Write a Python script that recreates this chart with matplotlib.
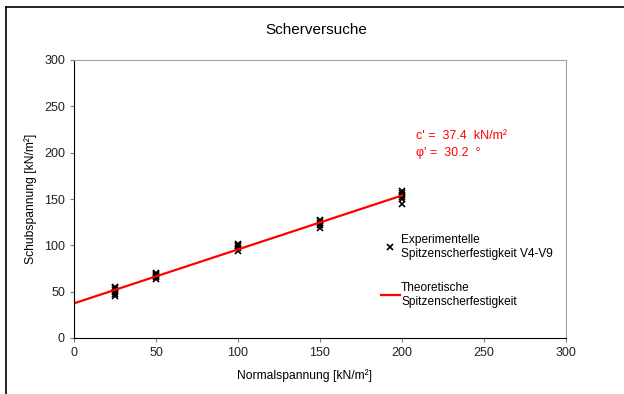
import numpy as np
import matplotlib.pyplot as plt
from matplotlib.lines import Line2D

plt.rcParams['font.family'] = ['Liberation Sans', 'DejaVu Sans']

# normal stress levels and measured peak shear stress (V4-V9)
normal_25 = [45, 48, 50, 52, 54, 55]
normal_50 = [64, 66, 67, 68, 69, 70]
normal_100 = [94, 97, 99, 100, 101]
normal_150 = [119, 122, 124, 126, 127]
normal_200 = [145, 150, 152, 154, 157, 159]
sigma_levels = [25, 50, 100, 150, 200]

c_eff = 37.4      # kN/m²
phi_eff = 30.2    # degrees
line_x = [0, 200]

fig = plt.figure(figsize=(6.24, 3.94), dpi=100)
ax = fig.add_axes([74 / 624, 56 / 394, 492 / 624, 278 / 394])

tau_groups = [normal_25, normal_50, normal_100, normal_150, normal_200]
xs, ys = [], []
for s, taus in zip(sigma_levels, tau_groups):
    xs += [s] * len(taus)
    ys += taus
ax.plot(xs, ys, 'x', color='black', ms=5, mew=1.2, linestyle='none')

lx = np.array(line_x, dtype=float)
ax.plot(lx, c_eff + lx * np.tan(np.radians(phi_eff)), color='red', lw=1.6)

ax.set_xlim(0, 300)
ax.set_ylim(0, 300)
ax.set_xticks(np.arange(0, 301, 50))
ax.set_yticks(np.arange(0, 301, 50))
ax.tick_params(labelsize=9, length=3, color='#808080', colors='#222222')
for side in ['top', 'right']:
    ax.spines[side].set_color('#a0a0a0')
for side in ['left', 'bottom']:
    ax.spines[side].set_color('black')

ax.set_title('Scherversuche', fontsize=11, pad=19, x=0.492)
ax.set_xlabel('Normalspannung [kN/m²]', fontsize=8.7, labelpad=7)
ax.xaxis.label.set_x(0.4695)
ax.set_ylabel('Schubspannung [kN/m²]', fontsize=8.7, labelpad=5)

ax.text(416 / 624, 1 - 136 / 394, "c' =  37.4  kN/m²", transform=fig.transFigure,
        color='red', fontsize=9, va='center')
ax.text(416 / 624, 1 - 153 / 394, "φ' =  30.2  °", transform=fig.transFigure,
        color='red', fontsize=9, va='center')

handles = [Line2D([], [], marker='x', color='black', ms=4, mew=1.2, linestyle='none'),
           Line2D([], [], color='red', lw=1.6)]
labels = ['Experimentelle\nSpitzenscherfestigkeit V4-V9',
          'Theoretische\nSpitzenscherfestigkeit']
fig.legend(handles, labels, loc='upper left', bbox_to_anchor=(376 / 624, 1 - 229 / 394),
           frameon=False, fontsize=8.6, handlelength=1.6, handletextpad=0.1,
           labelspacing=1.9, borderaxespad=0)

# outer chart frame
fig.add_artist(Line2D([6 / 624, 1], [1 - 7 / 394, 1 - 7 / 394], color='black', lw=1.2))
fig.add_artist(Line2D([6 / 624, 6 / 624], [0, 1 - 7 / 394], color='black', lw=1.2))

fig.savefig('out.png', dpi=100)
